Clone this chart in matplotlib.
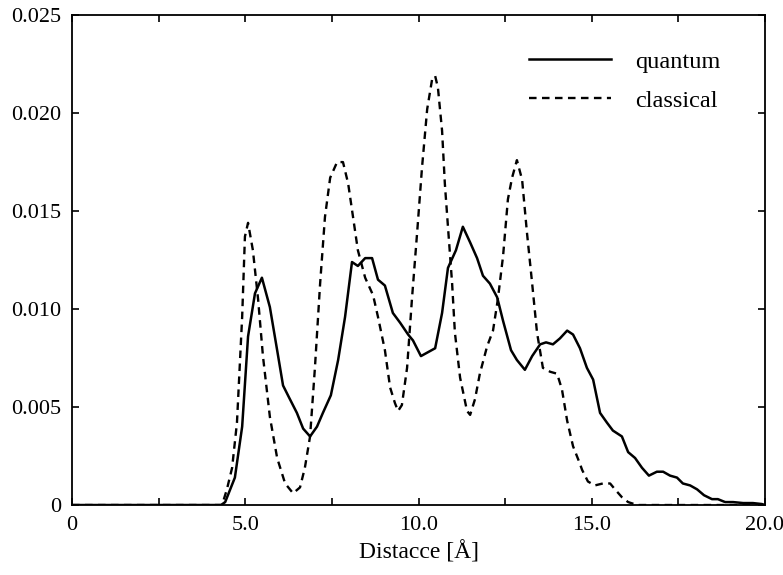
import matplotlib.pyplot as plt

plt.rcParams['font.family'] = ['Liberation Serif', 'DejaVu Serif']
plt.rcParams['mathtext.fontset'] = 'stix'

# quantum distribution (solid)
quantum_x = [0.0, 4.30, 4.42, 4.70, 4.91, 5.08, 5.28, 5.48, 5.71, 5.92, 6.09, 6.26, 6.49,
             6.67, 6.87, 7.07, 7.24, 7.47, 7.68, 7.88, 8.08, 8.25, 8.46, 8.66, 8.83,
             9.03, 9.26, 9.47, 9.70, 9.84, 10.07, 10.48, 10.68, 10.85, 11.08, 11.28,
             11.49, 11.69, 11.86, 12.06, 12.27, 12.44, 12.67, 12.84, 13.07, 13.28,
             13.51, 13.68, 13.88, 14.08, 14.29, 14.46, 14.66, 14.86, 15.04, 15.24,
             15.44, 15.61, 15.87, 16.05, 16.25, 16.45, 16.65, 16.88, 17.06, 17.26,
             17.46, 17.63, 17.84, 18.04, 18.24, 18.47, 18.64, 18.85, 19.08, 19.37,
             19.65, 19.91, 20.0]
quantum_y = [0.0, 0.0, 0.00015, 0.0014, 0.0040, 0.0086, 0.0108, 0.0116, 0.0101, 0.0079,
             0.0061, 0.0055, 0.0047, 0.0039, 0.0035, 0.0040, 0.0047, 0.0056, 0.0074,
             0.0096, 0.0124, 0.0122, 0.0126, 0.0126, 0.0115, 0.0112, 0.0098, 0.0093,
             0.0087, 0.0084, 0.0076, 0.0080, 0.0098, 0.0121, 0.0130, 0.0142, 0.0134,
             0.0126, 0.0117, 0.0113, 0.0106, 0.0094, 0.0079, 0.0074, 0.0069, 0.0076,
             0.0082, 0.0083, 0.0082, 0.0085, 0.0089, 0.0087, 0.0080, 0.0070, 0.0064,
             0.0047, 0.0042, 0.0038, 0.0035, 0.0027, 0.0024, 0.0019, 0.0015, 0.0017,
             0.0017, 0.0015, 0.0014, 0.0011, 0.0010, 0.0008, 0.0005, 0.0003, 0.0003,
             0.00015, 0.00015, 0.0001, 0.0001, 0.00005, 0.0]

# classical distribution (dashed)
classical_x = [0.0, 4.33, 4.47, 4.62, 4.76, 4.91, 4.99, 5.08, 5.22, 5.37, 5.51, 5.71,
               5.92, 6.15, 6.38, 6.58, 6.72, 6.87, 7.01, 7.16, 7.30, 7.45, 7.65, 7.82,
               7.97, 8.11, 8.25, 8.46, 8.69, 8.83, 9.03, 9.18, 9.32, 9.41, 9.52, 9.67,
               9.81, 9.96, 10.10, 10.25, 10.39, 10.48, 10.56, 10.68, 10.76, 10.85,
               10.97, 11.05, 11.20, 11.40, 11.49, 11.63, 11.77, 11.98, 12.15, 12.29,
               12.44, 12.58, 12.70, 12.84, 12.99, 13.13, 13.28, 13.42, 13.59, 13.80,
               14.00, 14.14, 14.29, 14.46, 14.66, 14.72, 14.89, 15.09, 15.32, 15.53,
               15.67, 15.87, 16.05, 16.31, 20.0]
classical_y = [0.0, 0.0, 0.0008, 0.0019, 0.0042, 0.0096, 0.0137, 0.0144, 0.0130, 0.0105,
               0.0076, 0.0045, 0.0024, 0.0011, 0.0006, 0.0009, 0.0019, 0.0035, 0.0070,
               0.0113, 0.0147, 0.0167, 0.0175, 0.0175, 0.0164, 0.0147, 0.0130, 0.0116,
               0.0107, 0.0096, 0.0079, 0.0060, 0.0052, 0.0048, 0.0051, 0.0070, 0.0105,
               0.0139, 0.0172, 0.0202, 0.0217, 0.0219, 0.0213, 0.0191, 0.0164, 0.0142,
               0.0113, 0.0088, 0.0065, 0.0048, 0.0046, 0.0054, 0.0067, 0.0081, 0.0089,
               0.0105, 0.0127, 0.0156, 0.0167, 0.0176, 0.0166, 0.0139, 0.0113, 0.0088,
               0.0070, 0.0068, 0.0067, 0.0059, 0.0043, 0.0030, 0.0021, 0.0018, 0.0012,
               0.0010, 0.0011, 0.0011, 0.0008, 0.0004, 0.00015, 0.0, 0.0]

x_major = [0, 5, 10, 15, 20]
x_labels = ['0', '5.0', '10.0', '15.0', '20.0']
x_minor = [2.5, 7.5, 12.5, 17.5]
y_ticks = [0, 0.005, 0.010, 0.015, 0.020, 0.025]
y_labels = ['0', '0.005', '0.010', '0.015', '0.020', '0.025']

fig = plt.figure(figsize=(7.83, 5.75), dpi=100)
ax = fig.add_axes([0.092, 0.1217, 0.885, 0.852])

ax.plot(quantum_x, quantum_y, color='black', lw=1.8, label='quantum')
ax.plot(classical_x, classical_y, color='black', lw=1.7, ls=(0, (3.2, 2.3)),
        label='classical')

ax.set_xlim(0, 20)
ax.set_ylim(0, 0.025)
ax.set_xticks(x_major)
ax.set_xticklabels(x_labels)
ax.set_xticks(x_minor, minor=True)
ax.set_yticks(y_ticks)
ax.set_yticklabels(y_labels)
ax.tick_params(which='both', direction='in', top=True, right=True, length=5,
               width=1.2, labelsize=16, pad=8)
for s in ax.spines.values():
    s.set_linewidth(1.3)

ax.set_xlabel('Distacce [Å]', fontsize=17, labelpad=4)

ax.legend(loc='upper right', bbox_to_anchor=(0.968, 0.972), frameon=False, fontsize=17.5,
          handlelength=3.4, handletextpad=1.0, labelspacing=0.7)

plt.savefig('out.png', dpi=100)
